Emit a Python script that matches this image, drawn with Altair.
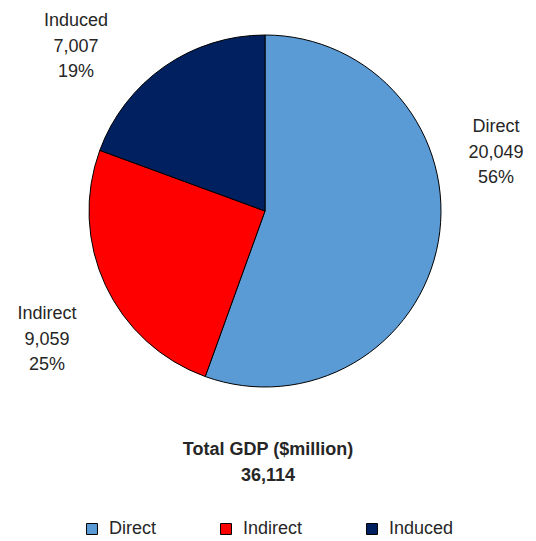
import altair as alt
import pandas as pd

categories = ["Direct", "Indirect", "Induced"]
values = [20049, 9059, 7007]
percents = ["56%", "25%", "19%"]
total_title = "Total GDP ($million)"
total_value = "36,114"
colors = ["#5B9BD5", "#FF0000", "#002060"]

df = pd.DataFrame({
    "category": categories,
    "value": values,
    "pct": percents,
    "order": list(range(len(categories))),
})
df["label"] = [f"{c}\n{v:,}\n{p}" for c, v, p in zip(categories, values, percents)]

FONT = "Liberation Sans, Arial, sans-serif"
TXT = "#262626"
color_scale = alt.Scale(domain=categories, range=colors)

base = alt.Chart(df)

pie = base.mark_arc(outerRadius=176, stroke="black", strokeWidth=1).encode(
    theta=alt.Theta("value:Q", stack=True),
    color=alt.Color(
        "category:N", scale=color_scale, sort=categories,
        legend=alt.Legend(
            title=None, orient="none", legendX=75, legendY=512,
            direction="horizontal", symbolType="square", symbolSize=120,
            symbolStrokeColor="black", symbolStrokeWidth=1,
            labelFont=FONT, labelFontSize=18, labelColor=TXT,
            labelOffset=8, columnPadding=60, padding=0,
        ),
    ),
    order=alt.Order("order:Q"),
    x=alt.value(257),
    y=alt.value(203),
)

label_pos = {
    "Direct": (488, 124),
    "Indirect": (39, 311),
    "Induced": (68, 18),
}

layers = [pie]
for cat in categories:
    lx, ly = label_pos[cat]
    layers.append(
        base.mark_text(
            align="center", baseline="alphabetic", lineBreak="\n", lineHeight=25.5,
            font=FONT, fontSize=18, color=TXT,
        ).encode(
            text="label:N", x=alt.value(lx), y=alt.value(ly)
        ).transform_filter(alt.datum.category == cat)
    )

title_df = pd.DataFrame({"t": [total_title + "\n" + total_value]})
title = alt.Chart(title_df).mark_text(
    align="center", baseline="alphabetic", lineBreak="\n", lineHeight=26,
    font=FONT, fontSize=18, fontWeight="bold", color=TXT,
).encode(text="t:N", x=alt.value(260), y=alt.value(447))
layers.append(title)

chart = alt.layer(*layers).properties(
    width=520, height=533, padding=0,
    autosize=alt.AutoSizeParams(type="none"),
).configure_view(stroke=None)

chart.save("out.html", embed_options={"renderer": "svg", "actions": False})
